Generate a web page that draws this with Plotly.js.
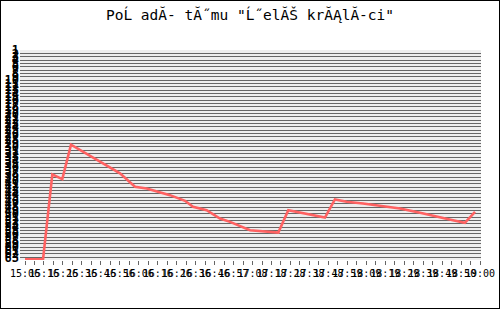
<!DOCTYPE html>
<html><head><meta charset="utf-8">
<script src="https://cdn.plot.ly/plotly-3.0.1.min.js"></script>
<style>html,body{margin:0;padding:0;background:#fff}#c{width:498px;height:307px;border:1px solid #000}</style>
</head><body><div id="c"></div>
<script>
// sample index along the time axis and the team's rank value
const sampleIndex = [0, 1.90, 2.88, 3.93, 4.85, 6.50, 8.23, 10.02, 11.60, 12.83, 15.29, 16.88, 17.72, 19.16, 20.56, 21.63, 23.73, 25.49, 26.72, 27.77, 29.01, 30.37, 31.64, 32.69, 33.93, 35.65, 37.76, 39.55, 41.67, 43.42, 45.14, 46.40, 47.47];
const rankValue   = [-0.6, -0.6, 24.8, 23.4, 33.7, 31.0, 28.1, 25.1, 21.1, 20.6, 18.6, 16.9, 15.1, 14.1, 11.6, 10.6, 8.1, 7.6, 7.4, 14.1, 13.4, 12.6, 11.9, 17.3, 16.6, 16.1, 15.3, 14.6, 13.3, 12.1, 11.1, 10.3, 13.6];
const timeLabels = ["15:06","15:16","15:26","15:36","15:46","15:56","16:06","16:16","16:26","16:36","16:46","16:57","17:08","17:18","17:28","17:38","17:48","17:59","18:09","18:19","18:29","18:39","18:49","18:50","19:00"];
const yLabels = []; for (let i = 0; i <= 62; i++) yLabels.push(String(63 - i));
const chartTitle = 'PoĹ adĂ- tĂ˝mu "Ĺ˝elĂŠ krĂĄlĂ-ci"';

const xTickVals = [], xTickText = [];
for (let k = 0; k <= 48; k++) {
  xTickVals.push(k);
  xTickText.push(k % 2 === 0 ? timeLabels[k / 2] : "");
}
const yTickVals = []; for (let i = 0; i <= 62; i++) yTickVals.push(i);

const mono = "DejaVu Sans Mono, monospace";
Plotly.newPlot("c", [{
  x: sampleIndex, y: rankValue, type: "scatter", mode: "lines",
  line: {color: "#ff6262", width: 2.6}, hoverinfo: "none"
}], {
  width: 498, height: 307,
  margin: {l: 19, r: 18, t: 49, b: 48, pad: 0},
  paper_bgcolor: "#ffffff", plot_bgcolor: "#eeeeee",
  showlegend: false,
  title: {text: chartTitle, x: 0.5, xref: "container", xanchor: "center", y: 0.955, yref: "container", yanchor: "middle",
          font: {family: mono, size: 14.5, color: "#000"}},
  xaxis: {range: [-0.53, 48.1], tickmode: "array", tickvals: xTickVals, ticktext: xTickText, tickangle: 0,
          ticks: "outside", ticklen: 4, tickcolor: "#666", showgrid: false, zeroline: false,
          showline: false,
          tickfont: {family: mono, size: 10, color: "#000"}},
  yaxis: {range: [-0.8, 62], tickmode: "array", tickvals: yTickVals, ticktext: yLabels, ticks: "",
          showgrid: true, gridcolor: "#666666", gridwidth: 1, zeroline: false, showline: false,
          tickfont: {family: mono, size: 12, weight: 700, color: "#000"}}
}, {staticPlot: true});
</script></body></html>
